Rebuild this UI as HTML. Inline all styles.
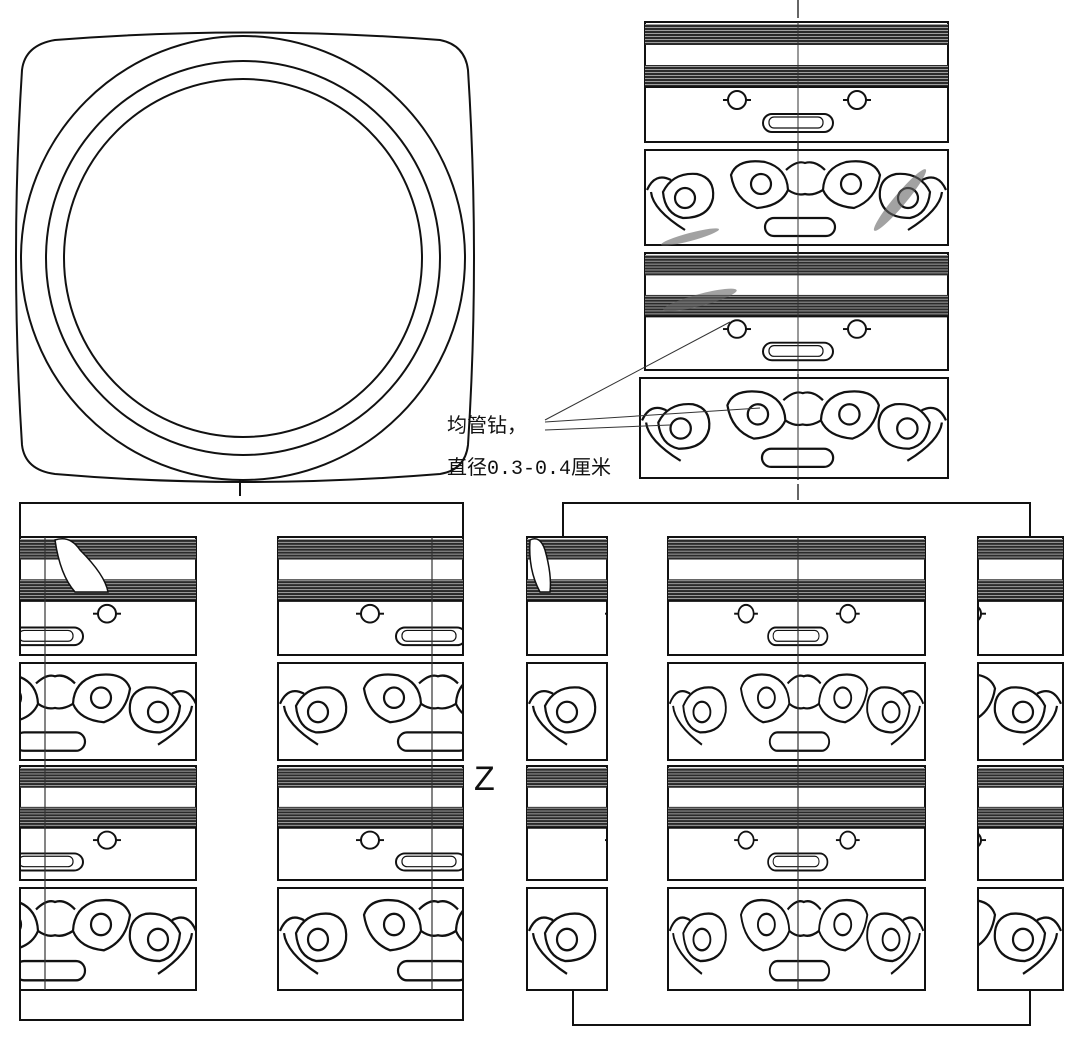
<!DOCTYPE html>
<html><head><meta charset="utf-8"><style>
html,body{margin:0;padding:0;background:#fff;width:1080px;height:1056px;overflow:hidden}
svg{display:block}
</style></head><body>
<svg width="1080" height="1056" viewBox="0 0 1080 1056" xmlns="http://www.w3.org/2000/svg" xmlns:xlink="http://www.w3.org/1999/xlink">
<defs>
<pattern id="st" width="6" height="3" patternUnits="userSpaceOnUse">
<rect width="6" height="3" fill="#2a2a2a"/><rect y="2" width="6" height="0.8" fill="#bbb"/>
</pattern>
<symbol id="sp" viewBox="0 0 303 120" preserveAspectRatio="none" overflow="hidden">
<rect x="0" y="2" width="303" height="21" fill="url(#st)"/>
<rect x="0" y="43" width="303" height="22" fill="url(#st)"/>
<g fill="none" stroke="#111" stroke-width="2">
<line x1="0" y1="65" x2="303" y2="65"/>
<circle cx="92" cy="78" r="9"/><line x1="78" y1="78" x2="83" y2="78"/><line x1="101" y1="78" x2="106" y2="78"/>
<circle cx="212" cy="78" r="9"/><line x1="198" y1="78" x2="203" y2="78"/><line x1="221" y1="78" x2="226" y2="78"/>
<rect x="118" y="92" width="70" height="18" rx="9"/>
<rect x="124" y="95" width="54" height="11" rx="5" stroke-width="1.2"/>
</g>
</symbol>
<symbol id="fp" viewBox="0 0 303 95" preserveAspectRatio="none" overflow="hidden">
<g fill="none" stroke="#111" stroke-width="2.2">
<path d="M18,42 Q28,22 52,24 Q70,28 68,48 Q64,68 38,68 Q20,64 18,42Z"/>
<circle cx="40" cy="48" r="10"/>
<path d="M2,40 Q10,22 26,30 M6,42 Q8,60 40,80"/>
<path d="M86,25 Q92,8 120,12 Q142,18 143,40 Q136,56 112,58 Q90,50 86,25Z"/>
<circle cx="116" cy="34" r="10"/>
<path d="M141,20 Q152,10 160,13 Q170,10 180,20 M143,40 Q152,46 160,44 Q168,46 178,40"/>
<path d="M235,25 Q229,8 201,12 Q179,18 178,40 Q185,56 209,58 Q231,50 235,25Z"/>
<circle cx="206" cy="34" r="10"/>
<path d="M285,42 Q275,22 251,24 Q233,28 235,48 Q239,68 265,68 Q283,64 285,42Z"/>
<circle cx="263" cy="48" r="10"/>
<path d="M301,40 Q293,22 277,30 M297,42 Q295,60 263,80"/>
<rect x="120" y="68" width="70" height="18" rx="9"/>
</g>
</symbol>
</defs>

<g fill="none" stroke="#111" stroke-width="2">
<path d="M55,40 Q243,25 440,40 Q465,45 468,70 Q480,258 468,445 Q465,470 440,474 Q243,490 55,474 Q25,470 22,445 Q10,258 22,70 Q25,45 55,40 Z"/>
<circle cx="243" cy="258" r="222"/>
<circle cx="243" cy="258" r="197"/>
<circle cx="243" cy="258" r="179"/>
<line x1="240" y1="480" x2="240" y2="496"/>
</g>

<line x1="798" y1="0" x2="798" y2="500" stroke="#333" stroke-width="1.5" stroke-dasharray="18,4"/>

<g stroke="#111" stroke-width="2" fill="#fff">
<rect x="645" y="22" width="303" height="120"/>
<rect x="645" y="150" width="303" height="95"/>
<rect x="645" y="253" width="303" height="117"/>
<rect x="640" y="378" width="308" height="100"/>
</g>
<use xlink:href="#sp" x="645" y="22" width="303" height="120"/>
<use xlink:href="#fp" x="645" y="150" width="303" height="95"/>
<use xlink:href="#sp" x="645" y="253" width="303" height="117"/>
<use xlink:href="#fp" x="640" y="380" width="308" height="96"/>
<line x1="798" y1="22" x2="798" y2="478" stroke="#333" stroke-width="1" />
<g fill="#666" opacity="0.6">
<ellipse cx="700" cy="300" rx="38" ry="6" transform="rotate(-15 700 300)"/>
<ellipse cx="690" cy="237" rx="30" ry="4" transform="rotate(-15 690 237)"/>
<ellipse cx="900" cy="200" rx="40" ry="6" transform="rotate(-50 900 200)"/>
</g>

<g stroke="#333" stroke-width="1">
<line x1="545" y1="420" x2="730" y2="322"/>
<line x1="545" y1="422" x2="760" y2="408"/>
<line x1="545" y1="430" x2="670" y2="425"/>
</g>
<text x="447" y="432" font-family="'Liberation Mono','Noto Sans CJK SC',monospace" font-size="20" fill="#111">均管钻，</text>
<text x="447" y="474" font-family="'Liberation Mono','Noto Sans CJK SC',monospace" font-size="20" fill="#111">直径0.3-0.4厘米</text>

<g fill="none" stroke="#111" stroke-width="2">
<path d="M20,537 L20,503 L463,503 L463,537 M20,990 L20,1020 L463,1020 L463,990"/>
<path d="M563,537 L563,503 L1030,503 L1030,537 M573,990 L573,1025 L1030,1025 L1030,990"/>
</g>
<text x="474" y="790" font-family="'Liberation Sans',sans-serif" font-size="34" fill="#111">Z</text>

<g stroke="#111" stroke-width="2" fill="#fff">
<rect x="20" y="537" width="176" height="118"/><rect x="20" y="663" width="176" height="97"/>
<rect x="20" y="766" width="176" height="114"/><rect x="20" y="888" width="176" height="102"/>
<rect x="278" y="537" width="185" height="118"/><rect x="278" y="663" width="185" height="97"/>
<rect x="278" y="766" width="185" height="114"/><rect x="278" y="888" width="185" height="102"/>
<rect x="527" y="537" width="80" height="118"/><rect x="527" y="663" width="80" height="97"/>
<rect x="527" y="766" width="80" height="114"/><rect x="527" y="888" width="80" height="102"/>
<rect x="668" y="537" width="257" height="118"/><rect x="668" y="663" width="257" height="97"/>
<rect x="668" y="766" width="257" height="114"/><rect x="668" y="888" width="257" height="102"/>
<rect x="978" y="537" width="85" height="118"/><rect x="978" y="663" width="85" height="97"/>
<rect x="978" y="766" width="85" height="114"/><rect x="978" y="888" width="85" height="102"/>
</g>

<svg x="20" y="537" width="176" height="118" viewBox="125 0 176 120" preserveAspectRatio="none"><use xlink:href="#sp" width="303" height="120"/></svg>
<svg x="20" y="663" width="176" height="97" viewBox="125 0 176 95" preserveAspectRatio="none"><use xlink:href="#fp" width="303" height="95"/></svg>
<svg x="20" y="766" width="176" height="114" viewBox="125 0 176 120" preserveAspectRatio="none"><use xlink:href="#sp" width="303" height="120"/></svg>
<svg x="20" y="888" width="176" height="102" viewBox="125 0 176 95" preserveAspectRatio="none"><use xlink:href="#fp" width="303" height="95"/></svg>

<svg x="278" y="537" width="185" height="118" viewBox="0 0 185 120" preserveAspectRatio="none"><use xlink:href="#sp" width="303" height="120"/></svg>
<svg x="278" y="663" width="185" height="97" viewBox="0 0 185 95" preserveAspectRatio="none"><use xlink:href="#fp" width="303" height="95"/></svg>
<svg x="278" y="766" width="185" height="114" viewBox="0 0 185 120" preserveAspectRatio="none"><use xlink:href="#sp" width="303" height="120"/></svg>
<svg x="278" y="888" width="185" height="102" viewBox="0 0 185 95" preserveAspectRatio="none"><use xlink:href="#fp" width="303" height="95"/></svg>

<svg x="527" y="537" width="80" height="118" viewBox="0 0 80 120" preserveAspectRatio="none"><use xlink:href="#sp" width="303" height="120"/></svg>
<svg x="527" y="663" width="80" height="97" viewBox="0 0 80 95" preserveAspectRatio="none"><use xlink:href="#fp" width="303" height="95"/></svg>
<svg x="527" y="766" width="80" height="114" viewBox="0 0 80 120" preserveAspectRatio="none"><use xlink:href="#sp" width="303" height="120"/></svg>
<svg x="527" y="888" width="80" height="102" viewBox="0 0 80 95" preserveAspectRatio="none"><use xlink:href="#fp" width="303" height="95"/></svg>

<use xlink:href="#sp" x="668" y="537" width="257" height="118"/>
<use xlink:href="#fp" x="668" y="663" width="257" height="97"/>
<use xlink:href="#sp" x="668" y="766" width="257" height="114"/>
<use xlink:href="#fp" x="668" y="888" width="257" height="102"/>

<svg x="978" y="537" width="85" height="118" viewBox="218 0 85 120" preserveAspectRatio="none"><use xlink:href="#sp" width="303" height="120"/></svg>
<svg x="978" y="663" width="85" height="97" viewBox="218 0 85 95" preserveAspectRatio="none"><use xlink:href="#fp" width="303" height="95"/></svg>
<svg x="978" y="766" width="85" height="114" viewBox="218 0 85 120" preserveAspectRatio="none"><use xlink:href="#sp" width="303" height="120"/></svg>
<svg x="978" y="888" width="85" height="102" viewBox="218 0 85 95" preserveAspectRatio="none"><use xlink:href="#fp" width="303" height="95"/></svg>

<g stroke="#333" stroke-width="1.2">
<line x1="45" y1="537" x2="45" y2="990"/>
<line x1="432" y1="537" x2="432" y2="990"/>
<line x1="798" y1="537" x2="798" y2="990"/>
</g>
<g fill="#fff" stroke="#111" stroke-width="1.5">
<path d="M55,540 Q70,535 80,550 Q105,575 108,592 L75,592 Q60,575 55,540Z"/>
<path d="M530,540 Q540,535 545,550 Q552,575 550,592 L540,592 Q528,570 530,540Z"/>
</g>
</svg>
</body></html>
